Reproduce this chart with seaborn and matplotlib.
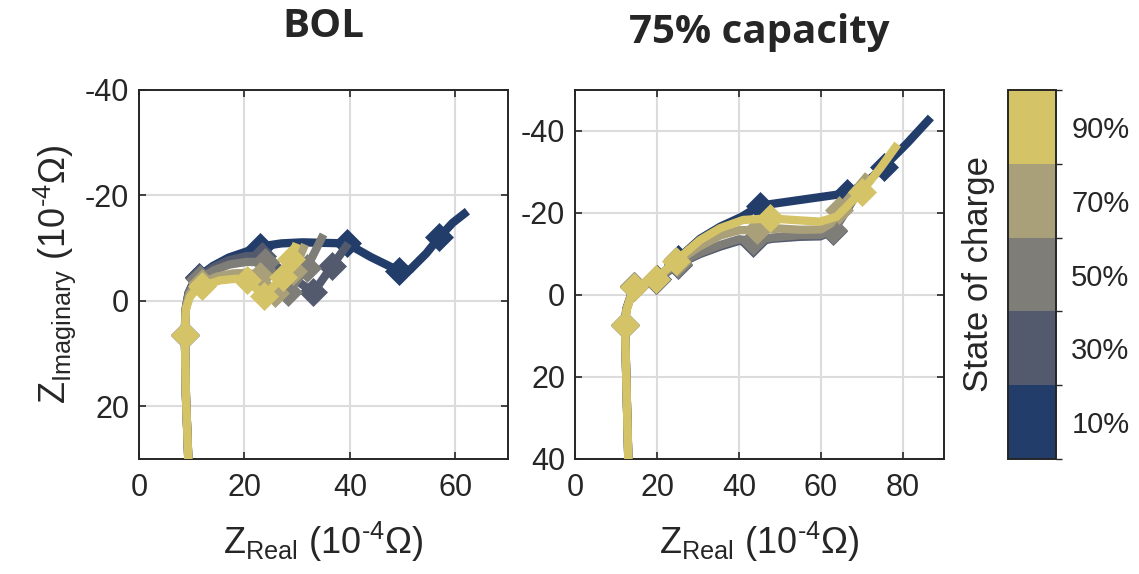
import matplotlib
matplotlib.use("Agg")
import matplotlib as mpl
import matplotlib.pyplot as plt
import seaborn as sns
from matplotlib.colors import ListedColormap, BoundaryNorm

# ---------------- data ----------------
SOC_LABELS = ["10%", "30%", "50%", "70%", "90%"]
SOC_TICKS = [10, 30, 50, 70, 90]
SOC_BOUNDS = [0, 20, 40, 60, 80, 100]
SOC_COLORS = ["#233D6A", "#545A6E", "#7E7D78", "#A99F79", "#D5C368"]
PANEL_TITLES = ["BOL", "75% capacity"]

# BOL panel (Z_real, Z_imag in 1e-4 Ohm), marker indices
bol_10_x = [9.35, 8.9, 8.7, 8.8, 9.4, 10.3, 11.3, 14.0, 17.0, 20.5, 23.0, 27.0, 31.0, 35.0, 39.4, 44.0, 49.3, 51.5, 54.5, 57.0, 59.5, 62.3]
bol_10_y = [30.0, 18.0, 6.5, 2.0, -1.5, -3.5, -4.6, -6.6, -8.2, -9.4, -10.3, -10.9, -11.1, -11.0, -10.9, -8.3, -5.7, -6.0, -9.0, -12.1, -14.8, -17.0]
bol_10_m = [2, 6, 10, 14, 16, 19]

bol_30_x = [9.35, 8.9, 8.7, 8.8, 9.4, 10.4, 11.4, 14.0, 17.0, 20.5, 23.3, 33.1, 36.6, 39.7]
bol_30_y = [30.0, 18.0, 6.5, 1.9, -1.5, -3.3, -4.4, -6.3, -7.7, -8.5, -8.5, -1.6, -6.6, -10.9]
bol_30_m = [2, 6, 10, 11, 12]

bol_50_x = [9.35, 8.9, 8.7, 8.8, 9.5, 10.5, 11.6, 14.2, 17.2, 20.5, 23.9, 28.3, 31.8, 35.0]
bol_50_y = [30.0, 18.0, 6.5, 1.7, -1.6, -3.2, -4.2, -5.8, -6.9, -7.4, -7.3, -1.7, -6.2, -12.6]
bol_50_m = [2, 6, 10, 11, 12]

bol_70_x = [9.35, 8.9, 8.7, 8.9, 9.6, 10.7, 11.9, 14.8, 17.8, 20.6, 23.0, 25.8, 29.3, 31.5]
bol_70_y = [30.0, 18.0, 6.5, 1.5, -1.3, -2.7, -3.4, -4.6, -5.2, -5.3, -4.8, -1.4, -5.6, -10.7]
bol_70_m = [2, 6, 10, 11, 12]

bol_90_x = [9.35, 8.9, 8.7, 8.9, 9.7, 10.9, 12.0, 15.4, 18.5, 20.5, 23.7, 27.4, 28.8, 29.9]
bol_90_y = [30.0, 18.0, 6.5, 1.5, -0.8, -2.2, -2.8, -3.9, -4.2, -3.9, -1.0, -4.6, -8.0, -10.9]
bol_90_m = [2, 6, 9, 10, 11, 12]

# 75 % capacity panel
cap_10_x = [13.0, 12.5, 12.2, 12.5, 14.4, 19.9, 25.2, 30.5, 35.5, 40.5, 45.1, 55.0, 66.3, 70.5, 75.3, 81.0, 86.8]
cap_10_y = [40.0, 20.0, 7.3, 3.5, -2.2, -3.9, -8.9, -13.7, -16.7, -19.0, -21.8, -23.2, -24.8, -27.0, -31.3, -37.0, -43.3]
cap_10_m = [2, 4, 5, 6, 10, 12, 14]

cap_30_x = [13.0, 12.5, 12.2, 12.5, 14.4, 19.8, 25.0, 30.5, 35.4, 40.0, 43.5, 48.0, 54.9, 59.8, 63.0, 66.5, 70.5]
cap_30_y = [40.0, 20.0, 7.3, 3.6, -2.0, -3.6, -7.4, -10.0, -11.8, -13.2, -12.8, -13.7, -14.2, -14.3, -15.6, -21.0, -27.5]
cap_30_m = [2, 4, 5, 6, 10, 14]

cap_50_x = [13.0, 12.5, 12.2, 12.5, 14.4, 19.8, 25.0, 30.5, 35.4, 40.0, 43.5, 48.0, 54.9, 59.8, 63.0, 66.5, 70.5]
cap_50_y = [40.0, 20.0, 7.3, 3.6, -2.1, -3.7, -7.6, -10.3, -12.2, -13.6, -13.2, -14.0, -14.6, -14.6, -15.9, -21.2, -27.8]
cap_50_m = [2, 4, 5, 6, 10, 14]

cap_70_x = [13.0, 12.5, 12.2, 12.5, 14.4, 19.8, 24.8, 30.5, 35.4, 40.0, 44.5, 50.0, 55.0, 60.0, 62.5, 64.4, 67.5, 71.5]
cap_70_y = [40.0, 20.0, 7.3, 3.6, -2.1, -3.8, -8.1, -11.9, -14.5, -15.8, -15.9, -16.2, -15.9, -16.0, -17.5, -20.7, -24.5, -29.3]
cap_70_m = [2, 4, 5, 6, 10, 15]

cap_90_x = [13.0, 12.5, 12.2, 12.6, 14.4, 19.7, 24.6, 30.5, 35.4, 41.0, 47.6, 53.2, 59.8, 63.8, 67.1, 69.9, 74.5, 78.7]
cap_90_y = [40.0, 20.0, 7.3, 3.7, -2.0, -3.9, -8.3, -13.4, -16.3, -18.3, -18.7, -18.3, -17.9, -19.1, -22.4, -25.2, -31.0, -36.8]
cap_90_m = [2, 4, 5, 6, 10, 15]

bol_curves = [(bol_10_x, bol_10_y, bol_10_m), (bol_30_x, bol_30_y, bol_30_m),
              (bol_50_x, bol_50_y, bol_50_m), (bol_70_x, bol_70_y, bol_70_m),
              (bol_90_x, bol_90_y, bol_90_m)]
cap_curves = [(cap_10_x, cap_10_y, cap_10_m), (cap_30_x, cap_30_y, cap_30_m),
              (cap_50_x, cap_50_y, cap_50_m), (cap_70_x, cap_70_y, cap_70_m),
              (cap_90_x, cap_90_y, cap_90_m)]

bol_xticks = [0, 20, 40, 60]
bol_yticks = [-40, -20, 0, 20]
cap_xticks = [0, 20, 40, 60, 80]
cap_yticks = [-40, -20, 0, 20, 40]

# ---------------- style ----------------
sns.set_theme(style="ticks")
plt.rcParams["font.family"] = ["Liberation Sans", "DejaVu Sans"]
plt.rcParams["axes.unicode_minus"] = False
plt.rcParams["mathtext.fontset"] = "custom"
plt.rcParams["mathtext.rm"] = "Liberation Sans"
plt.rcParams["mathtext.it"] = "Liberation Sans:italic"
plt.rcParams["mathtext.bf"] = "Liberation Sans:bold"

DARK = "#262626"
W, H = 1139, 574
fig = plt.figure(figsize=(W / 100, H / 100), dpi=100)

def px_axes(left, top, width, height):
    return fig.add_axes([left / W, (H - top - height) / H, width / W, height / H])

ax1 = px_axes(139, 90, 369, 369)
ax2 = px_axes(575, 90, 369, 369)

def draw_panel(ax, curves, xlim, ylim, xticks, yticks):
    for i, (xs, ys, mk) in enumerate(curves):
        c = SOC_COLORS[i]
        sns.lineplot(x=xs, y=ys, ax=ax, sort=False, estimator=None, color=c,
                     lw=6.0, marker="D", markevery=mk, markersize=14.5,
                     markeredgecolor=c, markeredgewidth=0.5, markerfacecolor=c,
                     solid_capstyle="butt", solid_joinstyle="round",
                     zorder=3 + i, legend=False)
    ax.set_xlim(*xlim)
    ax.set_ylim(*ylim)
    ax.set_xticks(xticks)
    ax.set_yticks(yticks)
    ax.grid(True, color="#DCDCDC", lw=1.5, zorder=0)
    ax.set_axisbelow(True)
    for s in ax.spines.values():
        s.set_color(DARK)
        s.set_linewidth(1.4)
        s.set_visible(True)
    ax.tick_params(axis="both", direction="in", length=5, width=1.2, color=DARK,
                   top=True, right=True, labelsize=22, labelcolor=DARK)
    ax.tick_params(axis="x", pad=10)
    ax.tick_params(axis="y", pad=7)

draw_panel(ax1, bol_curves, (0, 70), (30, -40), bol_xticks, bol_yticks)
draw_panel(ax2, cap_curves, (0, 90), (40, -50), cap_xticks, cap_yticks)

xlab = r"Z$_{\rm Real}$ (10$^{\text{-4}}$$\Omega$)"
ylab = r"Z$_{\rm Imaginary}$ (10$^{\text{-4}}$$\Omega$)"
for ax in (ax1, ax2):
    ax.set_xlabel(xlab, fontsize=26, color=DARK)
    ax.xaxis.set_label_coords(0.5, -0.165)
ax1.set_ylabel(ylab, fontsize=26, color=DARK)
ax1.yaxis.set_label_coords(-0.165, 0.5)
ax2.set_ylabel("")

ax1.text(0.5, 1.1436, PANEL_TITLES[0], transform=ax1.transAxes, ha="center",
         va="baseline", fontsize=29, fontweight="bold", family="Open Sans", color=DARK)
ax2.text(0.5, 1.127, PANEL_TITLES[1], transform=ax2.transAxes, ha="center",
         va="baseline", fontsize=29, fontweight="bold", family="Open Sans", color=DARK)

# colorbar
cax = px_axes(1008, 90, 48, 369)
cmap = ListedColormap(SOC_COLORS)
norm = BoundaryNorm(SOC_BOUNDS, cmap.N)
cb = fig.colorbar(mpl.cm.ScalarMappable(norm=norm, cmap=cmap), cax=cax, ticks=SOC_TICKS)
cb.set_ticklabels(SOC_LABELS)
cax.yaxis.set_ticks_position("right")
cax.tick_params(direction="in", length=8, width=1.3, color=DARK, labelsize=21,
                pad=11, labelcolor=DARK)
cb.outline.set_edgecolor(DARK)
cb.outline.set_linewidth(1.4)
cb.set_label("State of charge", fontsize=25, color=DARK)
cax.yaxis.set_label_position("left")
cax.yaxis.set_label_coords(-0.27, 0.5)

fig.savefig("out.png", dpi=100)
